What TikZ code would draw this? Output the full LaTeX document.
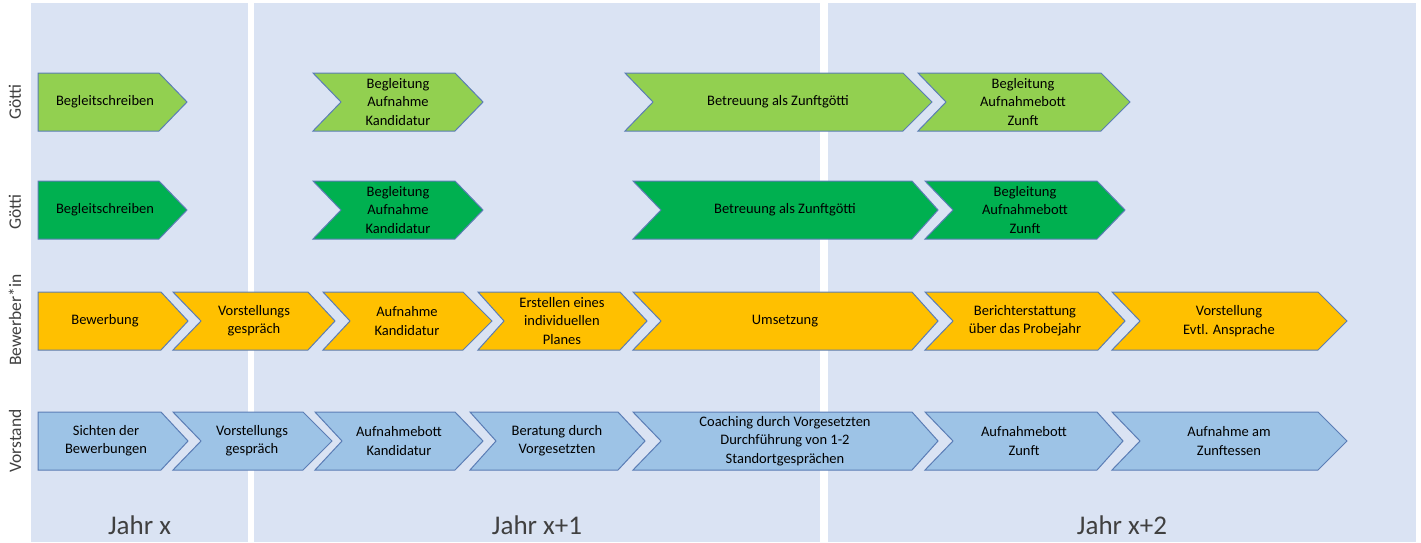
\documentclass[tikz,border=0pt]{standalone}
\usepackage{fontspec}
\setmainfont{Carlito}
\definecolor{bgpanel}{HTML}{DAE3F3}
\definecolor{gone}{HTML}{92D050}
\definecolor{gtwo}{HTML}{00B050}
\definecolor{yel}{HTML}{FFC000}
\definecolor{blu}{HTML}{9DC3E6}
\definecolor{edge}{HTML}{5B7DB5}
\definecolor{labgray}{HTML}{404040}
\tikzset{
  panel/.style={fill=bgpanel, draw=none},
  chev/.style={draw=edge, line width=1pt, line join=miter},
  lbl/.style={align=center, font=\fontsize{14.5}{18.3}\selectfont, text=black, inner sep=0pt},
  rowlbl/.style={rotate=90, font=\fontsize{17.5}{20}\selectfont, text=labgray, inner sep=0pt},
  yearlbl/.style={font=\fontsize{27}{30}\selectfont, text=labgray, inner sep=0pt},
}
% #1 fill, #2 name, #3 left, #4 notch depth, #5 shoulder, #6 tip, #7 y, #8 text x, #9 text
\newcommand{\chv}[9]{%
  \draw[chev, fill=#1] (#3,#7-29) -- (#5,#7-29) -- (#6,#7) -- (#5,#7+29) -- (#3,#7+29) -- (#3+#4,#7) -- cycle;
  \node[lbl] (#2) at (#8,#7) {#9};}
\begin{document}
\begin{tikzpicture}[x=1pt,y=-1pt]
\useasboundingbox (0,0) rectangle (1421,542);
\fill[white] (0,0) rectangle (1421,542);
% panels
\fill[panel] (31,3) rectangle (248,542);
\fill[panel] (254,3) rectangle (820,542);
\fill[panel] (828,3) rectangle (1416,542);
% row labels
\node[rowlbl] (r1) at (15,102) {Götti};
\node[rowlbl] (r2) at (15,212) {Götti};
\node[rowlbl] (r3) at (15,320) {Bewerber*in};
\node[rowlbl] (r4) at (15,441) {Vorstand};
% row 1
\chv{gone}{a1}{38}{0}{159}{187}{102}{105}{Begleitschreiben}
\chv{gone}{a2}{313}{28}{455}{483}{102}{398}{Begleitung\\Aufnahme\\Kandidatur}
\chv{gone}{a3}{625}{28}{903}{932}{102}{778}{Betreuung als Zunftgötti}
\chv{gone}{a4}{918}{28}{1101}{1130}{102}{1023}{Begleitung\\Aufnahmebott\\Zunft}
% row 2
\chv{gtwo}{b1}{38}{0}{159}{187}{210}{105}{Begleitschreiben}
\chv{gtwo}{b2}{313}{28}{455}{483}{210}{398}{Begleitung\\Aufnahme\\Kandidatur}
\chv{gtwo}{b3}{633}{28}{912}{938}{210}{785}{Betreuung als Zunftgötti}
\chv{gtwo}{b4}{925}{28}{1097}{1125}{210}{1025}{Begleitung\\Aufnahmebott\\Zunft}
% row 3
\chv{yel}{c1}{38}{0}{161}{188}{321}{105}{Bewerbung}
\chv{yel}{c2}{173}{28}{308}{335}{321}{254}{Vorstellungs\\gespräch}
\chv{yel}{c3}{323}{27}{463}{492}{321}{407}{Aufnahme\\Kandidatur}
\chv{yel}{c4}{478}{26}{620}{647}{321}{562}{Erstellen eines\\individuellen\\Planes}
\chv{yel}{c5}{633}{28}{912}{938}{321}{785}{Umsetzung}
\chv{yel}{c6}{925}{28}{1098}{1125}{321}{1025}{Berichterstattung\\über das Probejahr}
\chv{yel}{c7}{1112}{28}{1318}{1347}{321}{1229}{Vorstellung\\Evtl. Ansprache}
% row 4
\chv{blu}{d1}{38}{0}{161}{188}{441}{106}{Sichten der\\Bewerbungen}
\chv{blu}{d2}{173}{28}{303}{332}{441}{252}{Vorstellungs\\gespräch}
\chv{blu}{d3}{315}{27}{455}{483}{441}{399}{Aufnahmebott\\Kandidatur}
\chv{blu}{d4}{470}{26}{618}{645}{441}{557}{Beratung durch\\Vorgesetzten}
\chv{blu}{d5}{633}{28}{912}{938}{441}{785}{Coaching durch Vorgesetzten\\Durchführung von 1-2\\Standortgesprächen}
\chv{blu}{d6}{925}{28}{1097}{1123}{441}{1024}{Aufnahmebott\\Zunft}
\chv{blu}{d7}{1112}{28}{1318}{1347}{441}{1229}{Aufnahme am\\Zunftessen}
% year labels
\node[yearlbl] (y1) at (139.5,525) {Jahr x};
\node[yearlbl] (y2) at (537,525) {Jahr x+1};
\node[yearlbl] (y3) at (1122,525) {Jahr x+2};
\end{tikzpicture}
\end{document}
